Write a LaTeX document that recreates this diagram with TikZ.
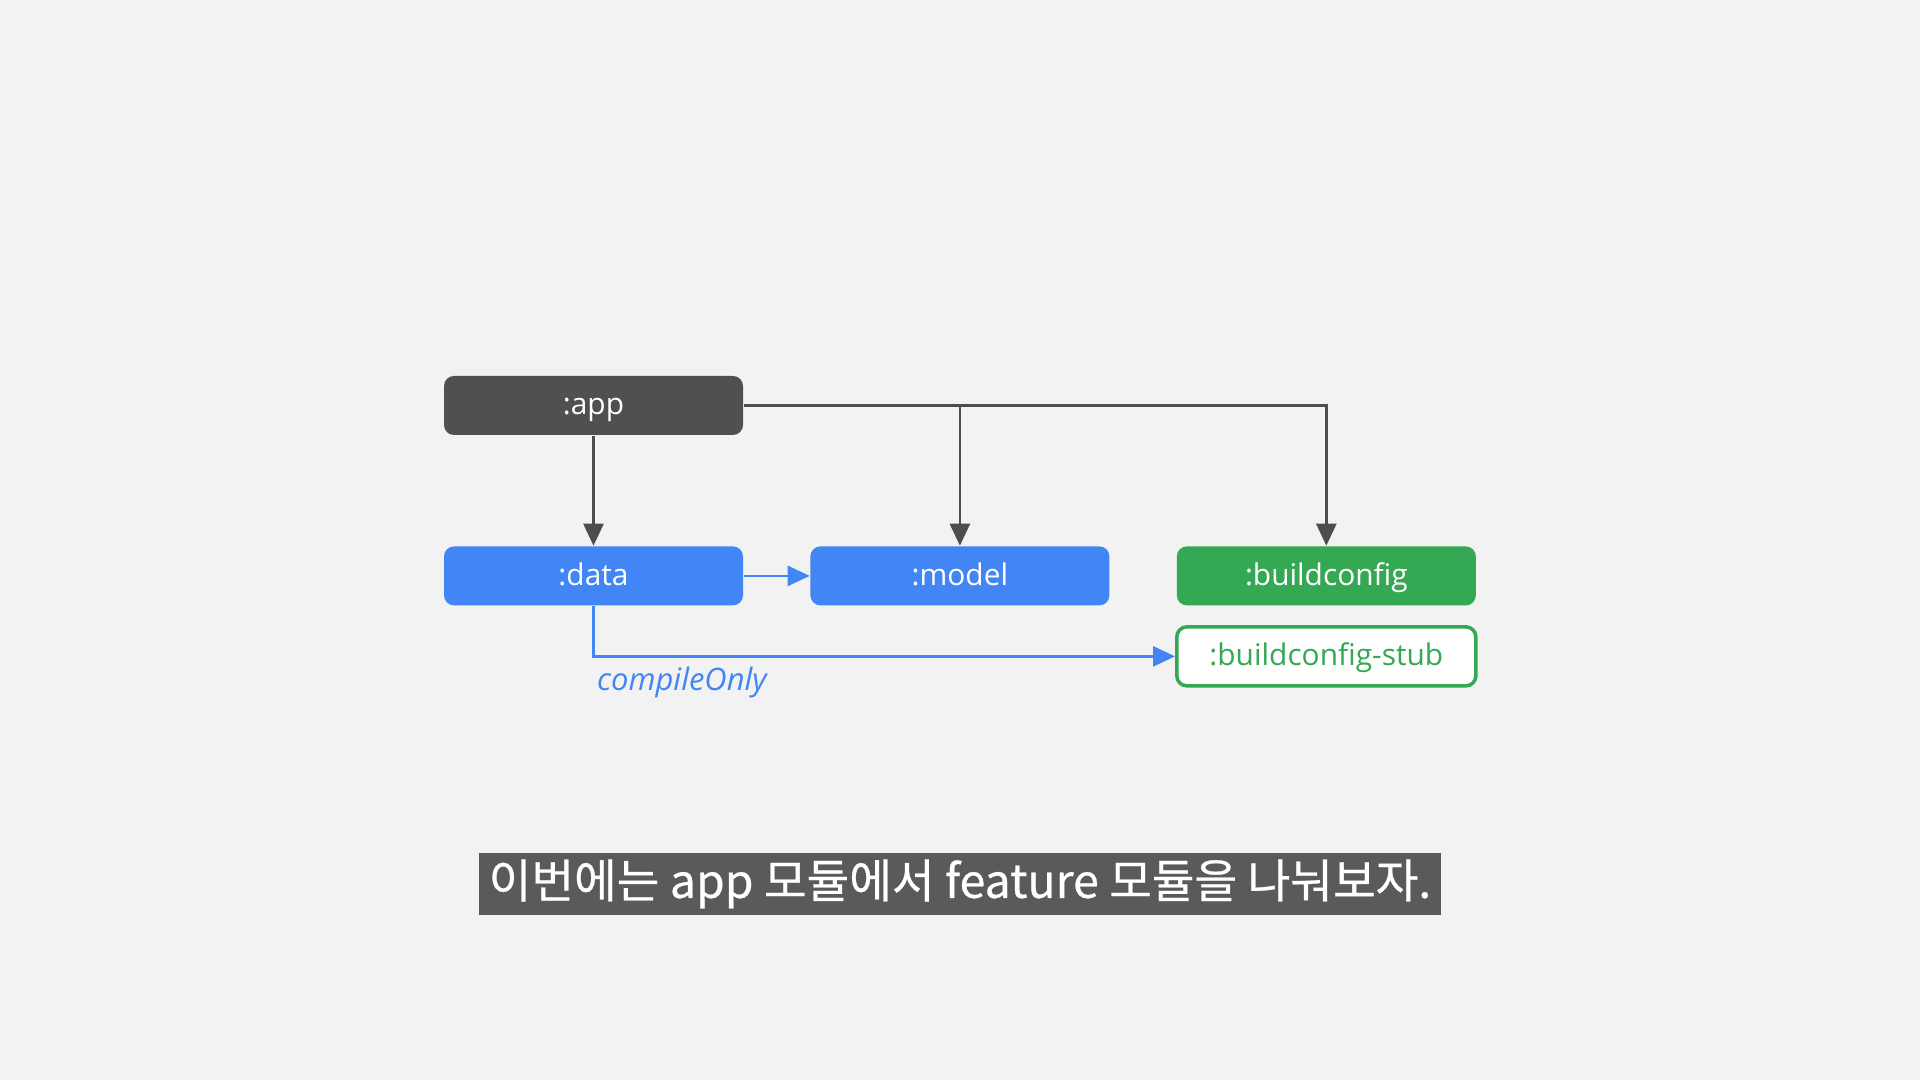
\documentclass[tikz,border=0pt]{standalone}
\usepackage{fontspec}
\setmainfont{Open Sans}
\newfontfamily\kofont[FakeBold=0.6]{Noto Sans CJK KR}
\usepackage{xcolor}
\usetikzlibrary{arrows.meta, positioning}

\definecolor{bgcol}{HTML}{F2F2F2}
\definecolor{appgray}{HTML}{505050}
\definecolor{linegray}{HTML}{4D4D4D}
\definecolor{gblue}{HTML}{4285F4}
\definecolor{ggreen}{HTML}{34A853}
\definecolor{subbar}{HTML}{5A5A5A}

\begin{document}
\begin{tikzpicture}[
    node distance=1.1cm and 0.66cm,
    module/.style={rounded corners=0.1cm, minimum width=2.99cm, minimum height=0.59cm, text height=0.22cm, text depth=0.03cm, font=\fontsize{8.5}{10}\selectfont, text=white, inner sep=0pt},
    arr/.style={-{Triangle[length=2.2mm, width=2mm]}, draw=linegray, line width=0.75pt},
    barr/.style={-{Triangle[length=2.2mm, width=2mm]}, draw=gblue, line width=0.75pt}
]
\useasboundingbox[fill=bgcol] (0,0) rectangle (19.2,10.8);

% Modules
\node[module, fill=appgray] (app) at (5.935,6.745) {:app};
\node[module, fill=gblue, below=of app] (data) {:data};
\node[module, fill=gblue, right=of data] (model) {:model};
\node[module, fill=ggreen, right=of model] (bcfg) {:buildconfig};
\node[module, fill=white, draw=ggreen, line width=1pt, text=ggreen, below=0.19cm of bcfg] (stub) {:buildconfig-stub};

% Dependencies of app
\draw[arr] (app) -- (data);
\draw[arr] (app.east) -| (bcfg.north);
\draw[arr] (app.east -| model.north) -- (model.north);

% data dependencies
\draw[barr] (data) -- (model);
\draw[barr] (data.south) |- (stub.west);
\coordinate (bend) at (data.south |- stub.west);
\node[below right=0.1cm and 0.03cm of bend, inner sep=0pt, text=gblue, font=\fontsize{8.8}{10}\selectfont\itshape] (conly) {compileOnly};

% Subtitle
\node[fill=subbar, text=white, minimum width=9.62cm, minimum height=0.62cm, inner sep=0pt, font=\kofont\fontsize{13.2}{14}\selectfont] (caption) at (9.6,1.96) {이번에는 app 모듈에서 feature 모듈을 나눠보자.};

\end{tikzpicture}
\end{document}
